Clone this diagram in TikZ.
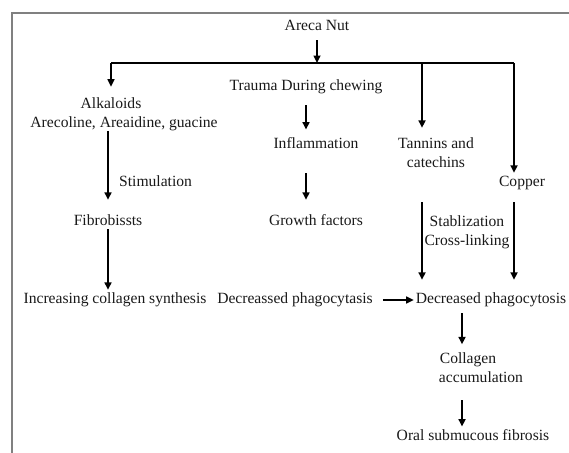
\documentclass[tikz,border=0pt]{standalone}
\usepackage{fontspec}
\setmainfont{Liberation Serif}
\usetikzlibrary{arrows.meta, calc}

\begin{document}
\begin{tikzpicture}[x=1pt, y=-1pt,
  every node/.style={inner sep=0pt, text=black!90, font=\fontsize{15.6}{19}\selectfont},
  word/.style={text height=11pt, text depth=3.5pt},
  arr/.style={line width=1.6pt, -{Triangle[length=7.5pt,width=7pt]}}]
\clip (0,0) rectangle (569,452);
% frame
\draw[gray, line width=1.3pt] (12,470) -- (12,13) -- (590,13);

% top
\node[word] (areca) at (317,27) {Areca Nut};
\coordinate (busL) at (111,63);
\coordinate (busT) at (422,63);
\coordinate (busR) at (514,63);
\draw[line width=1.4pt] (busL) -- (busR);

% left column
\node[align=center] (alk) at (124,114) {Alkaloids\hspace*{26pt}\\Arecoline, Areaidine, guacine};
\node[word, anchor=west] (stim) at (119,183) {Stimulation};
\node[word] (fib) at (108,222) {Fibrobissts};
\node[word] (incr) at (115,300) {Increasing collagen synthesis};

% middle column
\node[word] (trauma) at (306,87) {Trauma During chewing};
\node[word] (inflam) at (316,145) {Inflammation};
\node[word] (growth) at (316,222) {Growth factors};
\node[word] (decA) at (295,300) {Decreassed phagocytasis};

% right columns
\node[align=center] (tannin) at (436,153) {Tannins and\\catechins};
\node[word] (copper) at (522,183) {Copper};
\node[align=center] (stab) at (467,232) {Stablization\\Cross-linking};
\node[word] (decB) at (491,300) {Decreased phagocytosis};
\node[align=center] (coll) at (468,368) {Collagen\\\hspace*{26pt}accumulation};
\node[word] (oral) at (473,437) {Oral submucous fibrosis};

% arrows
\draw[arr, shorten <=5.75pt] (areca.south) -- (areca.south |- busL);
\draw[arr, shorten >=10.5pt] (busL) -- (busL |- alk.north);
\draw[arr, shorten >=10pt] (busT) -- (busT |- tannin.north);
\draw[arr, shorten >=2.75pt] (busR) -- (busR |- copper.north);
\draw[arr, shorten >=14.75pt] (fib.north |- alk.south) -- (fib.north);
\draw[arr, shorten >=2.75pt] (fib.south) -- (fib.south |- incr.north);
\draw[arr, shorten <=10.75pt, shorten >=8pt] (trauma.south) -- (trauma.south |- inflam.north);
\draw[arr, shorten <=20.75pt, shorten >=14.75pt] (trauma.south |- inflam.south) -- (trauma.south |- growth.north);
\draw[arr, shorten <=10pt, shorten >=2pt] (decA.east) -- (decB.west);
\draw[arr, shorten <=34pt, shorten >=12.75pt] (busT |- tannin.south) -- (busT |- decB.north);
\draw[arr, shorten <=11.75pt, shorten >=12.75pt] (busR |- copper.south) -- (busR |- decB.north);
\draw[arr, shorten <=6pt, shorten >=8.5pt] (decB.south -| 462,0) -- (coll.north -| 462,0);
\draw[arr, shorten <=17pt, shorten >=3pt] (coll.south -| 462,0) -- (oral.north -| 462,0);
\end{tikzpicture}
\end{document}
